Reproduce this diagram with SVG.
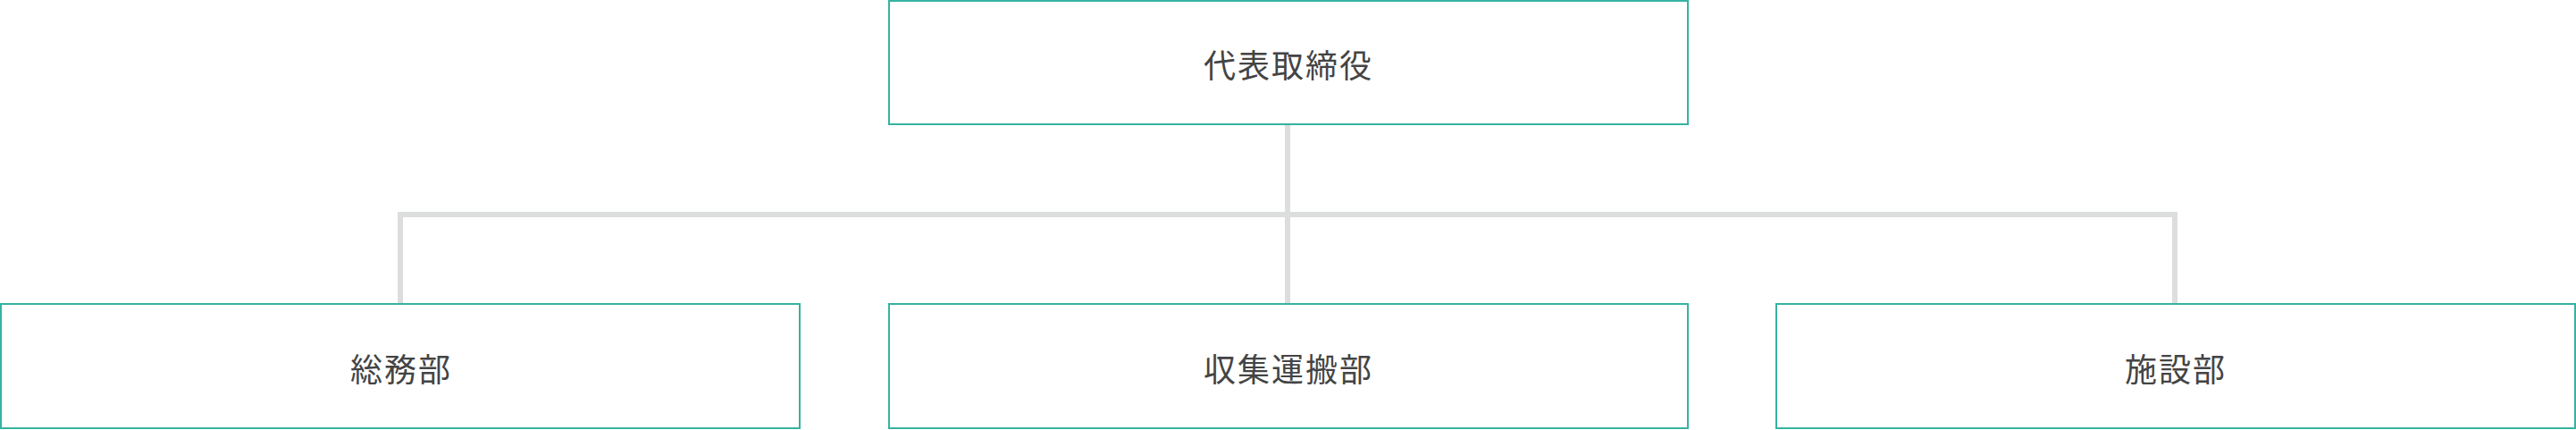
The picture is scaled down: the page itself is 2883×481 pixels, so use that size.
<svg xmlns="http://www.w3.org/2000/svg" width="2883" height="481" viewBox="0 0 2883 481">
<style>
.box{fill:#ffffff;stroke:#35b3a1;stroke-width:2}
.lbl{font-family:"Noto Sans CJK JP","Noto Sans CJK SC",sans-serif;font-size:36px;fill:#444444;text-anchor:middle;letter-spacing:2px}
.con{fill:none;stroke:#dcdddd;stroke-width:6}
</style>
<rect width="2883" height="481" fill="#ffffff"/>
<g id="connectors">
<path class="con" d="M1441 140 V340"/>
<path class="con" d="M448 340 V240 H2434 V340"/>
</g>
<g id="ceo">
<rect class="box" x="995" y="1" width="894" height="138"/>
<text class="lbl" x="1442" y="87">代表取締役</text>
</g>
<g id="general-affairs">
<rect class="box" x="1" y="340" width="894" height="139"/>
<text class="lbl" x="449" y="427">総務部</text>
</g>
<g id="collection-transport">
<rect class="box" x="995" y="340" width="894" height="139"/>
<text class="lbl" x="1442" y="427">収集運搬部</text>
</g>
<g id="facilities">
<rect class="box" x="1988" y="340" width="894" height="139"/>
<text class="lbl" x="2435" y="427">施設部</text>
</g>
</svg>
